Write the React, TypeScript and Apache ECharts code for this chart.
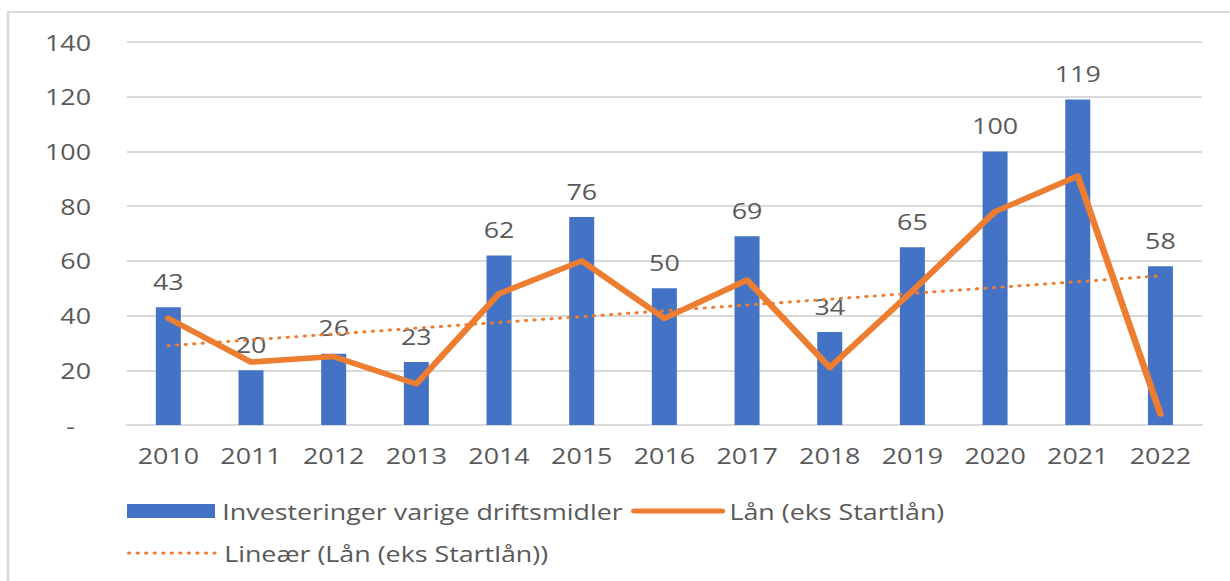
import React, { useEffect, useRef } from "react";
import * as echarts from "echarts";

const years = ["2010", "2011", "2012", "2013", "2014", "2015", "2016", "2017", "2018", "2019", "2020", "2021", "2022"];
const investeringer = [43, 20, 26, 23, 62, 76, 50, 69, 34, 65, 100, 119, 58];
const laan = [39, 23, 25, 15, 48, 60, 39, 53, 21, 49, 78, 91, 4];
const trendStart = 29;
const trendEnd = 54.5;
const yTicks = { min: 0, max: 140, interval: 20 };

const SERIES_BAR = "Investeringer varige driftsmidler";
const SERIES_LINE = "Lån (eks Startlån)";
const SERIES_TREND = "Lineær (Lån (eks Startlån))";

// The reference picture is stretched horizontally; reproduce by drawing narrower and scaling in X.
const SX = 1.22;
const W = 1230 / SX;
const H = 581;
const px = (v: number) => v / SX;

const FONT = "'Open Sans', sans-serif";
const FS = 22;
const TEXT = "#595959";
const GRID = "#d9d9d9";
const BLUE = "#4472C4";
const ORANGE = "#ED7D31";
const HIDDEN = { color: "rgba(0,0,0,0)", borderColor: "rgba(0,0,0,0)", borderWidth: 0 };

export default function App() {
  const ref = useRef<HTMLDivElement>(null);
  useEffect(() => {
    if (!ref.current) return;
    const chart = echarts.init(ref.current, null, { renderer: "svg" });
    chart.setOption({
      animation: false,
      backgroundColor: "#ffffff",
      textStyle: { fontFamily: FONT },
      graphic: [
        {
          type: "rect",
          z: -10,
          silent: true,
          shape: { x: px(8), y: 12, width: 1300, height: 700 },
          style: { fill: "none", stroke: GRID, lineWidth: 2 },
        },
      ],
      grid: { left: px(127), right: px(28), top: 42, bottom: 156, containLabel: false },
      legend: [
        {
          left: px(127),
          top: 500,
          padding: 0,
          itemWidth: px(88),
          itemHeight: 14,
          itemGap: px(8),
          textStyle: { fontFamily: FONT, fontSize: FS, color: TEXT, padding: [0, 0, 0, 1] },
          data: [
            { name: SERIES_BAR, icon: "rect" },
            { name: SERIES_LINE, itemStyle: HIDDEN, lineStyle: { width: 5, cap: "round", color: ORANGE } },
          ],
        },
        {
          left: px(127),
          top: 542,
          padding: 0,
          itemWidth: px(88),
          itemHeight: 14,
          textStyle: { fontFamily: FONT, fontSize: FS, color: TEXT, padding: [0, 0, 0, 1] },
          data: [
            {
              name: SERIES_TREND,
              itemStyle: HIDDEN,
              lineStyle: { width: 3, cap: "round", type: [0.5, 6.5], color: ORANGE },
            },
          ],
        },
      ],
      xAxis: {
        type: "category",
        data: years,
        axisLine: { lineStyle: { color: GRID, width: 2 } },
        axisTick: { show: false },
        axisLabel: { color: TEXT, fontSize: FS, fontFamily: FONT, margin: 19 },
      },
      yAxis: {
        type: "value",
        min: yTicks.min,
        max: yTicks.max,
        interval: yTicks.interval,
        axisLine: { show: false },
        axisTick: { show: false },
        splitLine: { lineStyle: { color: GRID, width: 2 } },
        axisLabel: {
          color: TEXT,
          fontSize: FS,
          fontFamily: FONT,
          margin: px(36),
          formatter: (v: number) => (v === 0 ? "{d|-}" : String(v)),
          rich: { d: { color: TEXT, fontSize: FS, fontFamily: FONT, padding: [0, px(16), 0, 0] } },
        },
      },
      series: [
        {
          name: SERIES_BAR,
          type: "bar",
          data: investeringer,
          barWidth: px(25),
          itemStyle: { color: BLUE },
          label: {
            show: true,
            position: "top",
            distance: 15,
            color: TEXT,
            fontSize: FS,
            fontFamily: FONT,
          },
          z: 2,
        },
        {
          name: SERIES_LINE,
          type: "line",
          data: laan,
          symbol: "none",
          lineStyle: { color: ORANGE, width: 5.5, cap: "round", join: "round" },
          itemStyle: { color: ORANGE },
          z: 4,
        },
        {
          name: SERIES_TREND,
          type: "line",
          data: [
            [years[0], trendStart],
            [years[years.length - 1], trendEnd],
          ],
          symbol: "none",
          lineStyle: { color: ORANGE, width: 3, type: [0.5, 6.5], cap: "round" },
          itemStyle: { color: ORANGE },
          z: 3,
        },
      ],
    });
    return () => chart.dispose();
  }, []);
  return (
    <div style={{ position: "absolute", left: 0, top: 0, width: 1230, height: H, overflow: "hidden", background: "#fff" }}>
      <div
        ref={ref}
        style={{ width: W, height: H, transform: `scaleX(${SX})`, transformOrigin: "0 0" }}
      />
    </div>
  );
}
